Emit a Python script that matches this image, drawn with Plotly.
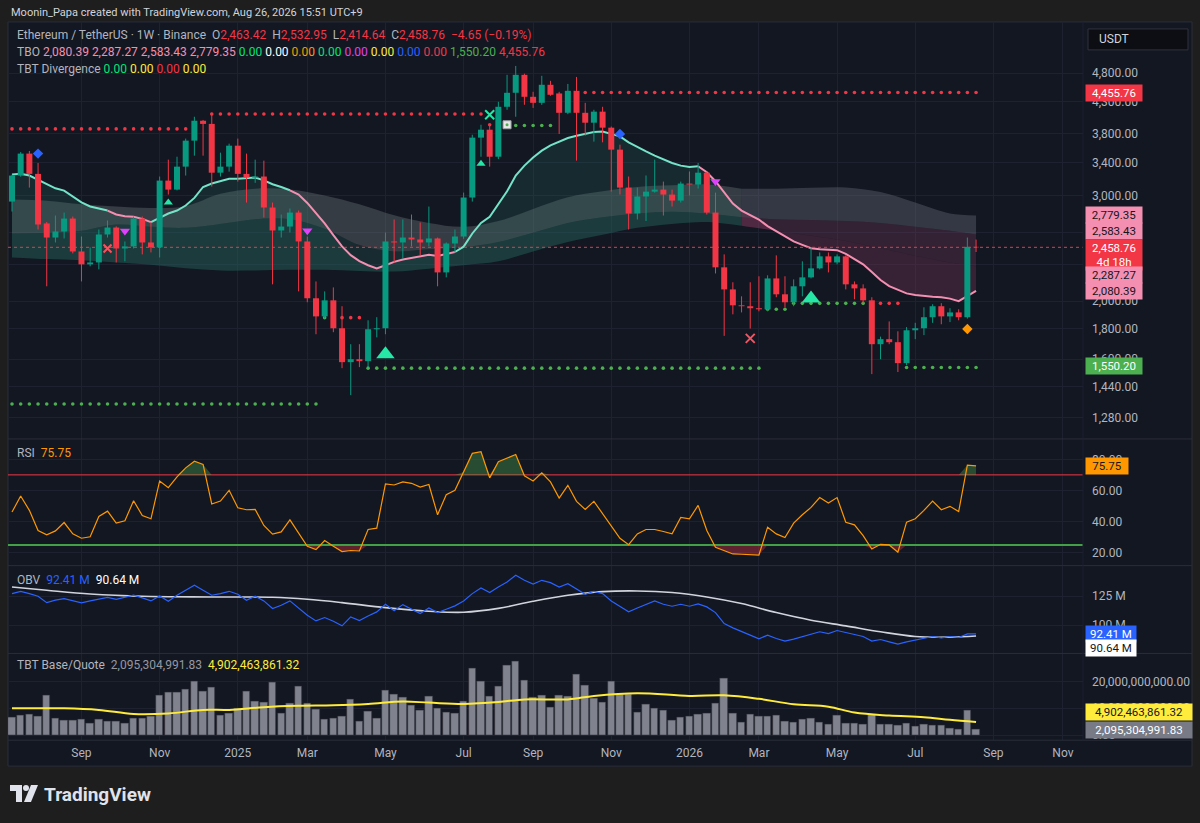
import numpy as np
import pandas as pd
import plotly.graph_objects as go

W, H = 1200, 823
PAGE_BG = "#1e1e1e"
PANEL_BG = "#131722"
GRID = "#1d2130"
BORDER = "#2a2e39"
TXT = "#b2b5be"
UP = "#089981"
DOWN = "#f23645"
FAST_UP = "#74e3c8"
FAST_DN = "#f48fb1"
FONT = "Roboto, 'Noto Sans', sans-serif"

# ---------------------------------------------------------------- data
first_week = pd.Timestamp("2024-07-08")
n_weeks = 112
weeks = pd.date_range(first_week, periods=n_weeks, freq="7D")

open_ = [
    2931, 3239, 3524, 3260, 2695, 2553, 2613, 2746, 2420, 2303,
    2320, 2583, 2653, 2448, 2467, 2746, 2505, 2458, 3177, 3069,
    3352, 3704, 3998, 3950, 3275, 3352, 3633, 3260, 3213, 3227,
    2865, 2623, 2663, 2810, 2515, 2022, 1886, 2006, 1802, 1582,
    1600, 1588, 1795, 1802, 2515, 2505, 2553, 2534, 2505, 2544,
    2233, 2495, 2563, 2977, 3747, 3863, 3482, 4218, 4451, 4769,
    4383, 4283, 4590, 4440, 4122, 4485, 4122, 3968, 4140, 3893,
    3578, 3093, 2800, 2989, 3045, 3069, 3011, 2942, 3141, 3129,
    3275, 2810, 2277, 2092, 1968, 1961, 1946, 1938, 2182, 2053,
    1991, 2117, 2191, 2268, 2375, 2320, 2375, 2133, 2100, 2006,
    1695, 1728, 1708, 1576, 1788, 1802, 1880, 1961, 1886, 1915,
    1880, 2463.42,
]
high = [
    3251, 3545, 3560, 3400, 2710, 2778, 2810, 2767, 2563, 2458,
    2633, 2726, 2665, 2515, 2767, 2767, 2705, 3227, 3443, 3482,
    3733, 4060, 4010, 4122, 3537, 3661, 3733, 3524, 3443, 3430,
    2920, 2789, 2854, 2832, 2563, 2157, 2076, 2108, 1961, 1695,
    1695, 1858, 1880, 2603, 2736, 2736, 2789, 2705, 2876, 2553,
    2505, 2633, 3034, 3789, 3937, 3937, 4300, 4769, 4935, 4790,
    4468, 4751, 4660, 4468, 4605, 4730, 4283, 4170, 4218, 3910,
    3647, 3227, 3093, 3240, 3443, 3165, 3069, 3165, 3290, 3400,
    3290, 3034, 2393, 2150, 2037, 2150, 2200, 2208, 2384, 2200,
    2174, 2330, 2458, 2411, 2411, 2393, 2384, 2157, 2133, 2030,
    1745, 1850, 1781, 1810, 1840, 1953, 1976, 1984, 1946, 1938,
    2553, 2532.95,
]
low = [
    2821, 3225, 3093, 2633, 2117, 2505, 2544, 2402, 2157, 2286,
    2259, 2553, 2320, 2330, 2448, 2393, 2411, 2365, 3011, 3060,
    3239, 3496, 3496, 3105, 3227, 3288, 3165, 2920, 3150, 2757,
    2133, 2553, 2603, 2076, 1991, 1761, 1872, 1775, 1546, 1394,
    1552, 1552, 1740, 1761, 2320, 2356, 2467, 2384, 2467, 2117,
    2191, 2411, 2540, 2931, 3482, 3352, 3450, 4170, 4060, 4251,
    4200, 4250, 4400, 3800, 4100, 3430, 3776, 3690, 3680, 3045,
    3011, 2633, 2736, 2720, 3034, 2778, 2876, 2920, 3000, 3081,
    2789, 2224, 1750, 1901, 1915, 1800, 1923, 1923, 2030, 1953,
    1961, 2037, 2182, 2259, 2233, 2303, 2092, 2014, 1984, 1511,
    1600, 1695, 1523, 1564, 1728, 1755, 1840, 1830, 1845, 1858,
    1870, 2414.64,
]
close = [
    3239, 3524, 3260, 2684, 2553, 2613, 2746, 2420, 2303, 2320,
    2583, 2653, 2448, 2467, 2746, 2505, 2458, 3177, 3069, 3352,
    3704, 3998, 3950, 3275, 3352, 3633, 3260, 3213, 3227, 2865,
    2623, 2663, 2810, 2515, 2022, 1886, 2006, 1802, 1582, 1600,
    1588, 1795, 1802, 2515, 2505, 2553, 2534, 2505, 2544, 2233,
    2495, 2563, 2977, 3747, 3863, 3482, 4218, 4451, 4769, 4383,
    4283, 4590, 4417, 4122, 4485, 4122, 3968, 4140, 3893, 3578,
    3093, 2800, 2989, 3045, 3069, 3011, 2942, 3141, 3129, 3275,
    2810, 2277, 2092, 1968, 1961, 1946, 1938, 2182, 2053, 1991,
    2117, 2191, 2268, 2375, 2320, 2375, 2133, 2100, 2006, 1695,
    1728, 1708, 1576, 1788, 1802, 1880, 1961, 1886, 1915, 1880,
    2463.42, 2458.76,
]
change_text = "−4.65 (−0.19%)"
bar_timer = "4d 18h"

# TBO fast line (one value per week) and the weeks where its colour flips
tbo_fast = [
    3251, 3262, 3240, 3189, 3129, 3084, 3057, 2992, 2923, 2876,
    2854, 2832, 2789, 2771, 2764, 2743, 2708, 2754, 2800, 2832,
    2887, 2973, 3100, 3141, 3170, 3200, 3200, 3206, 3214, 3180,
    3133, 3100, 3061, 3011, 2916, 2800, 2695, 2576, 2468, 2386,
    2332, 2295, 2268, 2295, 2325, 2347, 2362, 2378, 2389, 2378,
    2393, 2415, 2465, 2593, 2700, 2764, 2898, 3049, 3239, 3365,
    3473, 3564, 3637, 3684, 3741, 3775, 3804, 3828, 3837, 3804,
    3765, 3679, 3613, 3553, 3496, 3443, 3400, 3365, 3348, 3357,
    3280, 3170, 3037, 2909, 2832, 2782, 2736, 2667, 2613, 2560,
    2515, 2482, 2450, 2440, 2439, 2432, 2398, 2353, 2303, 2237,
    2168, 2118, 2087, 2060, 2047, 2039, 2034, 2030, 2019, 2000,
    2039, 2080.39,
]
tbo_flips = [12, 17, 33, 52, 80]

# TBO cloud lines, read every fourth week
cloud_weeks = [0, 4, 8, 12, 16, 20, 24, 28, 32, 36, 40, 44, 48, 52, 56,
               60, 64, 68, 72, 76, 80, 84, 88, 92, 96, 100, 104, 108, 111]
cloud_hi = [2954, 2940, 2900, 2876, 2860, 2880, 3020, 3080, 3070, 3000,
            2900, 2780, 2700, 2660, 2720, 2850, 2980, 3050, 3100, 3120,
            3130, 3080, 3080, 3090, 3095, 3040, 2920, 2800, 2779.35]
cloud_mid = [2593, 2600, 2620, 2684, 2660, 2650, 2690, 2740, 2740, 2640,
             2480, 2420, 2440, 2460, 2510, 2600, 2700, 2760, 2800, 2820,
             2800, 2760, 2740, 2730, 2720, 2700, 2660, 2620, 2583.43]
cloud_lo = [2365, 2350, 2340, 2320, 2300, 2270, 2250, 2250, 2255, 2255,
            2245, 2240, 2265, 2295, 2330, 2420, 2510, 2580, 2650, 2690,
            2710, 2670, 2620, 2570, 2520, 2450, 2380, 2320, 2287.27]
cloud_bear_from = 84

# dotted support / resistance runs: (first week, last week, price)
resistance_runs = [(0, 20, 3875), (23, 54, 4102), (55, 55, 3937),
                   (66, 111, 4455.76), (38, 40, 1877), (100, 102, 1983)]
support_runs = [(0, 35, 1347), (41, 86, 1546), (58, 62, 3926), (36, 36, 1877),
                (87, 89, 1938), (90, 98, 1983), (103, 111, 1550.20)]

# signal marks: (week, price, symbol, colour, size)
signals = [
    (3, 3524, "diamond", "#2962ff", 8),
    (11, 2448, "x-thin", "#f7525f", 8),
    (13, 2618, "triangle-down", "#e040fb", 9),
    (18, 2920, "triangle-up", "#26e7a6", 8),
    (34, 2620, "triangle-down", "#e040fb", 9),
    (43, 1631, "triangle-up", "#26e7a6", 16),
    (54, 3390, "triangle-up", "#26e7a6", 8),
    (55, 4090, "x-thin", "#26e7a6", 9),
    (70, 3800, "diamond", "#2962ff", 8),
    (81, 3165, "triangle-down", "#e040fb", 9),
    (85, 1733, "x-thin", "#f7525f", 9),
    (92, 2020, "triangle-up", "#26e7a6", 16),
    (110, 1797, "diamond", "#ff9800", 8),
]
bag_week, bag_price = 57, 3937

rsi = [
    46.1, 56.4, 47.2, 34.3, 31.5, 34.0, 39.4, 32.1, 29.3, 30.2,
    43.3, 46.7, 39.0, 40.5, 53.4, 43.9, 41.8, 66.1, 61.8, 68.7,
    74.5, 78.8, 76.7, 51.3, 53.2, 60.1, 48.9, 47.6, 47.8, 37.5,
    31.9, 33.4, 41.1, 32.5, 24.1, 22.0, 27.8, 24.1, 20.7, 21.4,
    21.1, 34.9, 35.8, 64.2, 63.5, 65.5, 64.6, 62.2, 63.8, 44.4,
    57.3, 60.1, 71.9, 83.8, 84.9, 68.1, 78.4, 80.6, 83.1, 69.4,
    66.1, 71.3, 65.5, 55.1, 63.3, 53.0, 47.8, 53.0, 45.0, 37.1,
    29.3, 25.2, 32.1, 34.9, 34.9, 33.6, 32.1, 42.7, 41.8, 50.4,
    34.3, 23.5, 21.1, 19.2, 19.0, 18.8, 18.5, 36.4, 32.1, 29.7,
    39.0, 44.4, 49.1, 55.4, 51.9, 55.4, 39.6, 37.9, 31.0, 22.4,
    25.4, 25.0, 20.3, 39.6, 41.8, 47.2, 53.2, 47.6, 49.8, 46.5,
    76.2, 75.75,
]
rsi_upper, rsi_lower = 70, 25

obv_m = [
    127.3, 129.3, 127.3, 125.0, 119.5, 121.6, 123.0, 121.0, 119.3, 121.0,
    122.7, 124.1, 122.4, 123.9, 125.9, 123.6, 121.0, 125.3, 120.7, 125.9,
    130.2, 134.5, 130.2, 125.9, 127.3, 129.3, 126.7, 121.6, 125.0, 121.0,
    114.4, 117.2, 121.0, 114.4, 108.6, 103.7, 106.6, 103.4, 99.4, 107.2,
    104.0, 108.0, 111.5, 118.1, 112.4, 117.8, 113.8, 110.1, 114.9, 110.9,
    113.8, 116.7, 121.0, 127.3, 132.2, 128.2, 133.0, 137.4, 143.1, 138.8,
    135.6, 138.8, 136.8, 133.0, 135.9, 131.0, 126.7, 129.3, 127.3, 121.0,
    116.4, 111.5, 114.9, 118.1, 121.0, 118.1, 116.4, 118.1, 116.4, 118.4,
    115.8, 110.9, 101.4, 97.7, 94.8, 91.4, 88.2, 91.4, 88.5, 86.2,
    87.9, 89.9, 92.2, 94.3, 92.8, 95.4, 93.7, 92.0, 90.2, 86.2,
    87.6, 85.6, 83.6, 85.6, 87.1, 88.5, 90.2, 89.1, 90.2, 89.4,
    92.5, 92.41,
]
obv_ma_weeks = [0, 4, 9, 15, 23, 30, 34, 38, 43, 48, 52, 56, 60, 64, 68,
                72, 76, 80, 84, 88, 92, 96, 100, 104, 108, 111]
obv_ma = [133.0, 130.2, 127.0, 125.0, 124.4, 124.1, 122.4, 119.5, 115.2,
          112.1, 111.2, 114.5, 120.7, 125.9, 129.0, 129.6, 128.2, 124.4,
          118.7, 110.9, 104.3, 99.4, 94.3, 90.2, 89.7, 90.64]

# quote volume, billions
volume_bn = [
    6.7, 7.4, 7.7, 7.0, 14.8, 6.2, 5.6, 5.6, 5.8, 4.3,
    5.7, 5.2, 5.2, 4.3, 6.3, 6.2, 6.9, 14.8, 16.0, 15.9,
    17.0, 20.0, 16.3, 17.9, 7.5, 8.1, 9.9, 16.2, 12.6, 12.1,
    19.5, 8.1, 11.9, 18.0, 11.9, 9.6, 5.7, 6.2, 7.0, 13.2,
    5.2, 8.8, 6.2, 16.5, 15.1, 14.1, 11.2, 9.3, 14.3, 10.1,
    8.3, 8.0, 12.7, 24.8, 20.1, 14.4, 18.0, 26.0, 27.4, 20.5,
    14.0, 14.6, 10.2, 14.7, 14.4, 22.7, 18.5, 13.8, 12.1, 20.1,
    15.3, 15.3, 8.4, 11.6, 10.0, 9.1, 5.6, 6.7, 6.9, 7.9,
    8.1, 11.7, 21.2, 8.0, 4.9, 7.7, 7.0, 6.9, 7.3, 5.2,
    4.7, 5.7, 6.4, 4.7, 4.1, 7.2, 4.3, 4.4, 4.0, 7.9,
    4.1, 4.0, 3.8, 4.4, 3.3, 4.1, 3.7, 3.7, 2.7, 2.3,
    9.1, 2.095,
]
vol_ma_weeks = [0, 3, 6, 10, 14, 18, 22, 25, 29, 33, 37, 41, 45, 48, 52,
                56, 59, 64, 67, 72, 78, 82, 86, 90, 94, 97, 101, 105, 108, 111]
vol_ma = [10.0, 10.0, 10.0, 9.4, 7.9, 8.1, 9.4, 9.4, 10.4, 10.9, 11.1, 11.6,
          12.5, 12.1, 11.6, 12.3, 13.3, 13.3, 14.6, 15.6, 14.6, 14.8, 13.5,
          11.5, 10.6, 8.4, 7.3, 6.7, 5.7, 4.902]

tick_weeks = [8, 17, 26, 34, 43, 52, 60, 69, 78, 86, 95, 104, 113, 121]
tick_labels = ["Sep", "Nov", "2025", "Mar", "May", "Jul", "Sep", "Nov",
               "2026", "Mar", "May", "Jul", "Sep", "Nov"]

# price grid; labels for the levels hidden behind the price tags are left blank
price_ticks = [1280, 1440, 1600, 1800, 2000, 2300, 2600, 3000, 3400, 3800, 4300, 4800]
price_hidden = {2300, 2600}


# ---------------------------------------------------------------- helpers
def wk(i):
    return first_week + pd.Timedelta(weeks=i)


def px_x(px):
    return px / W


def px_y(py):
    return 1 - py / H


def span(text, color):
    return f"<span style='color:{color}'>{text}</span>"


X_DOMAIN = [px_x(8), px_x(1083)]
T_LEFT = first_week - pd.Timedelta(days=3.22)
T_RIGHT = first_week + pd.Timedelta(days=863.2)

fig = go.Figure()


def band(xa, ya, xb, yb, color, shape_b="spline"):
    fig.add_trace(go.Scatter(x=xa, y=ya, mode="lines",
                             line=dict(width=0, shape="spline"), hoverinfo="skip"))
    fig.add_trace(go.Scatter(x=xb, y=yb, mode="lines",
                             line=dict(width=0, shape=shape_b),
                             fill="tonexty", fillcolor=color, hoverinfo="skip"))


# ---------------------------------------------------------------- TBO cloud
cw = [wk(i) for i in cloud_weeks]
k = cloud_weeks.index(cloud_bear_from)
parts = [(slice(0, k + 1), range(0, cloud_bear_from + 1), 0),
         (slice(k, None), range(cloud_bear_from, n_weeks), 1)]
cloud_colors = {
    "hi_mid": ("rgba(135,145,145,0.30)", "rgba(125,128,140,0.32)"),
    "mid_lo": ("rgba(45,125,112,0.20)", "rgba(175,80,125,0.20)"),
    "lo_fast": ("rgba(45,135,118,0.18)", "rgba(160,60,105,0.26)"),
}
for sl, bars, c in parts:
    band(cw[sl], cloud_hi[sl], cw[sl], cloud_mid[sl], cloud_colors["hi_mid"][c])
    band(cw[sl], cloud_mid[sl], cw[sl], cloud_lo[sl], cloud_colors["mid_lo"][c])
    band(cw[sl], cloud_lo[sl], [weeks[i] for i in bars], [tbo_fast[i] for i in bars],
         cloud_colors["lo_fast"][c], shape_b="linear")

# ---------------------------------------------------------------- dotted levels
for runs, color in ((resistance_runs, "#f23645"), (support_runs, "#4caf50")):
    for a, b, p in runs:
        fig.add_trace(go.Scatter(
            x=[weeks[i] for i in range(a, b + 1)], y=[p] * (b - a + 1),
            mode="markers", marker=dict(size=3.6, color=color), hoverinfo="skip"))

# ---------------------------------------------------------------- fast line
bounds = [0] + tbo_flips + [n_weeks]
for j in range(len(bounds) - 1):
    s, e = bounds[j], bounds[j + 1]
    idx = range(max(s - 1, 0), e)
    fig.add_trace(go.Scatter(
        x=[weeks[i] for i in idx], y=[tbo_fast[i] for i in idx], mode="lines",
        line=dict(color=FAST_UP if j % 2 == 0 else FAST_DN, width=2), hoverinfo="skip"))

# last price line
fig.add_trace(go.Scatter(x=[T_LEFT, T_RIGHT], y=[close[-1]] * 2, mode="lines",
                         line=dict(color="#f23645", width=1, dash="dot"), hoverinfo="skip"))


# ---------------------------------------------------------------- candles
def sticks(rows, ya, yb):
    xs, ys = [], []
    for i in rows:
        xs += [weeks[i], weeks[i], None]
        ys += [ya[i], yb[i], None]
    return xs, ys


up_rows = [i for i in range(n_weeks) if close[i] >= open_[i]]
dn_rows = [i for i in range(n_weeks) if close[i] < open_[i]]
for rows, color in ((up_rows, UP), (dn_rows, DOWN)):
    xs, ys = sticks(rows, low, high)
    fig.add_trace(go.Scatter(x=xs, y=ys, mode="lines", line=dict(color=color, width=1),
                             hoverinfo="skip"))
    xs, ys = sticks(rows, open_, close)
    fig.add_trace(go.Scatter(x=xs, y=ys, mode="lines", line=dict(color=color, width=6),
                             hoverinfo="skip"))

# ---------------------------------------------------------------- signals
for i, p, sym, color, size in signals:
    thin = sym.endswith("thin")
    fig.add_trace(go.Scatter(
        x=[weeks[i]], y=[p], mode="markers", hoverinfo="skip",
        marker=dict(symbol=sym, size=size, color=color,
                    line=dict(width=2 if thin else 0, color=color))))
fig.add_trace(go.Scatter(x=[weeks[bag_week]], y=[bag_price], mode="markers", hoverinfo="skip",
                         marker=dict(symbol="square", size=8, color="#e8e8e8",
                                     line=dict(width=1, color="#9aa0a6"))))
fig.add_trace(go.Scatter(x=[weeks[bag_week]], y=[bag_price], mode="markers", hoverinfo="skip",
                         marker=dict(symbol="circle", size=3, color="#4caf50")))

# ---------------------------------------------------------------- RSI pane
rx = list(weeks)
for lvl, color, wdt in ((rsi_upper, "#f23645", 1), (rsi_lower, "#43a047", 2)):
    fig.add_trace(go.Scatter(x=[T_LEFT, T_RIGHT], y=[lvl, lvl], mode="lines",
                             line=dict(color=color, width=wdt), xaxis="x2", yaxis="y2",
                             hoverinfo="skip"))
fig.add_trace(go.Scatter(x=rx, y=[rsi_upper] * n_weeks, mode="lines", line=dict(width=0),
                         xaxis="x2", yaxis="y2", hoverinfo="skip"))
fig.add_trace(go.Scatter(x=rx, y=[max(v, rsi_upper) for v in rsi], mode="lines",
                         line=dict(width=0), fill="tonexty",
                         fillcolor="rgba(76,175,80,0.35)", xaxis="x2", yaxis="y2",
                         hoverinfo="skip"))
fig.add_trace(go.Scatter(x=rx, y=[rsi_lower] * n_weeks, mode="lines", line=dict(width=0),
                         xaxis="x2", yaxis="y2", hoverinfo="skip"))
fig.add_trace(go.Scatter(x=rx, y=[min(v, rsi_lower) for v in rsi], mode="lines",
                         line=dict(width=0), fill="tonexty",
                         fillcolor="rgba(242,54,69,0.35)", xaxis="x2", yaxis="y2",
                         hoverinfo="skip"))
fig.add_trace(go.Scatter(x=rx, y=rsi, mode="lines", line=dict(color="#ff9800", width=1.2),
                         xaxis="x2", yaxis="y2", hoverinfo="skip"))

# ---------------------------------------------------------------- OBV pane
fig.add_trace(go.Scatter(x=[wk(i) for i in obv_ma_weeks], y=obv_ma, mode="lines",
                         line=dict(color="#d1d4dc", width=1.6, shape="spline"),
                         xaxis="x3", yaxis="y3", hoverinfo="skip"))
fig.add_trace(go.Scatter(x=rx, y=obv_m, mode="lines", line=dict(color="#2962ff", width=1.2),
                         xaxis="x3", yaxis="y3", hoverinfo="skip"))

# ---------------------------------------------------------------- volume pane
fig.add_trace(go.Bar(x=rx, y=volume_bn, width=7 * 24 * 3600 * 1000 * 0.86,
                     marker=dict(color="#80838d", line=dict(color="#2b2e38", width=0.6)),
                     xaxis="x4", yaxis="y4", hoverinfo="skip"))
fig.add_trace(go.Scatter(x=[wk(i) for i in vol_ma_weeks], y=vol_ma, mode="lines",
                         line=dict(color="#ffeb3b", width=2, shape="spline"),
                         xaxis="x4", yaxis="y4", hoverinfo="skip"))

# ---------------------------------------------------------------- axes
def dom(bottom_px, top_px):
    return [px_y(bottom_px), px_y(top_px)]


tick_dates = [wk(i) for i in tick_weeks]
x_common = dict(domain=X_DOMAIN, range=[T_LEFT, T_RIGHT], type="date", showgrid=True,
                gridcolor=GRID, gridwidth=1, tickmode="array", tickvals=tick_dates,
                ticktext=tick_labels, zeroline=False, showline=False, ticks="",
                fixedrange=True)
y_common = dict(side="right", showgrid=True, gridcolor=GRID, gridwidth=1, zeroline=False,
                showline=False, ticks="", tickfont=dict(color=TXT, size=12, family=FONT),
                ticklabelstandoff=8, fixedrange=True, tickmode="array")

fig.update_layout(
    xaxis=dict(**x_common, anchor="y", showticklabels=False),
    xaxis2=dict(**x_common, anchor="y2", showticklabels=False),
    xaxis3=dict(**x_common, anchor="y3", showticklabels=False),
    xaxis4=dict(**x_common, anchor="y4", showticklabels=True,
                tickfont=dict(color=TXT, size=12, family=FONT), ticklabelstandoff=4),
    yaxis=dict(**y_common, anchor="x", type="log", domain=dom(440, 22),
               range=[np.log10(1178.0), np.log10(5843.0)],
               tickvals=price_ticks,
               ticktext=["" if v in price_hidden else f"{v:,.2f}" for v in price_ticks]),
    yaxis2=dict(**y_common, anchor="x2", domain=dom(567, 440), range=[11.7, 93.1],
                tickvals=[20, 40, 60, 80], ticktext=["20.00", "40.00", "60.00", "80.00"]),
    yaxis3=dict(**y_common, anchor="x3", domain=dom(655, 567), range=[75.6, 151.5],
                tickvals=[100, 125], ticktext=["100 M", "125 M"]),
    yaxis4=dict(**y_common, anchor="x4", domain=dom(742, 655), range=[-1.85, 30.37],
                tickvals=[0, 10, 20],
                ticktext=["0.00", "10,000,000,000.00", "20,000,000,000.00"]),
)

# ---------------------------------------------------------------- shapes
shapes = [dict(type="rect", xref="paper", yref="paper", x0=px_x(8), x1=px_x(1192),
               y0=px_y(768), y1=px_y(22), fillcolor=PANEL_BG,
               line=dict(color=BORDER, width=1), layer="below")]
for py in (440, 567, 655, 742):
    shapes.append(dict(type="line", xref="paper", yref="paper", x0=px_x(8), x1=px_x(1192),
                       y0=px_y(py), y1=px_y(py), line=dict(color=BORDER, width=1)))
shapes.append(dict(type="line", xref="paper", yref="paper", x0=px_x(1083), x1=px_x(1083),
                   y0=px_y(742), y1=px_y(22), line=dict(color="#1c2030", width=1)))
# USDT box
shapes.append(dict(type="rect", xref="paper", yref="paper", x0=px_x(1088), x1=px_x(1188),
                   y0=px_y(50), y1=px_y(29), fillcolor="#0c0e14",
                   line=dict(color="#2f333e", width=1)))


# TradingView logo
def path(points):
    d = "M " + " L ".join(f"{px_x(x):.5f},{px_y(y):.5f}" for x, y in points) + " Z"
    return d


shapes.append(dict(type="path", xref="paper", yref="paper", fillcolor="#e0e3eb",
                   line=dict(width=0),
                   path=path([(10, 787), (22, 787), (22, 804), (16, 804), (16, 793), (10, 793)])))
shapes.append(dict(type="circle", xref="paper", yref="paper", fillcolor="#e0e3eb",
                   line=dict(width=0), x0=px_x(23), x1=px_x(29), y0=px_y(793), y1=px_y(787)))
shapes.append(dict(type="path", xref="paper", yref="paper", fillcolor="#e0e3eb",
                   line=dict(width=0),
                   path=path([(31, 787), (38, 787), (31, 804), (24, 804)])))

# ---------------------------------------------------------------- annotations
ann = []


def text_at(x, y, text, size=12, color=TXT, anchor="left"):
    ann.append(dict(xref="paper", yref="paper", x=px_x(x), y=px_y(y), text=text,
                    showarrow=False, xanchor=anchor, yanchor="middle",
                    font=dict(family=FONT, size=size, color=color)))


text_at(9, 13, "Moonin_Papa created with TradingView.com, Aug 26, 2026 15:51 UTC+9",
        size=11, color="#d1d4dc")

ohlc = [("O", open_[-1]), ("H", high[-1]), ("L", low[-1]), ("C", close[-1])]
line1 = span("Ethereum / TetherUS · 1W · Binance", TXT) + "  " + "  ".join(
    span(k_, TXT) + span(f"{v:,.2f}", DOWN) for k_, v in ohlc)
line1 += "  " + span(change_text, DOWN)
text_at(15, 35, line1)

tbo_vals = [(f"{tbo_fast[-1]:,.2f}", "#f48fb1"), (f"{cloud_lo[-1]:,.2f}", "#f48fb1"),
            (f"{cloud_mid[-1]:,.2f}", "#f48fb1"), (f"{cloud_hi[-1]:,.2f}", "#f48fb1"),
            ("0.00", "#00e676"), ("0.00", "#ffffff"), ("0.00", "#ff9800"),
            ("0.00", "#00e676"), ("0.00", "#e040fb"), ("0.00", "#ffeb3b"),
            ("0.00", "#2962ff"), ("0.00", "#f23645"),
            (f"{support_runs[-1][2]:,.2f}", "#4caf50"),
            (f"{resistance_runs[3][2]:,.2f}", "#f23645")]
text_at(15, 52, span("TBO", TXT) + " " + " ".join(span(t, c) for t, c in tbo_vals))
div_vals = [("0.00", "#00e676"), ("0.00", "#ffeb3b"), ("0.00", "#f23645"), ("0.00", "#ffeb3b")]
text_at(15, 69, span("TBT Divergence", TXT) + " " + " ".join(span(t, c) for t, c in div_vals))
text_at(15, 454, span("RSI", TXT) + "  " + span(f"{rsi[-1]:.2f}", "#ff9800"))
text_at(15, 581, span("OBV", TXT) + "  " + span(f"{obv_m[-1]:.2f} M", "#2962ff") + "  "
        + span(f"{obv_ma[-1]:.2f} M", "#ffffff"))
text_at(15, 667, span("TBT Base/Quote", TXT) + "  " + span("2,095,304,991.83", "#9598a1")
        + "  " + span("4,902,463,861.32", "#ffeb3b"))
text_at(1097, 39, "USDT", size=12, color="#d1d4dc")
text_at(42, 796, "<b>TradingView</b>", size=19, color="#e0e3eb")


def tag(yref, yval, text, bg, fg, shift=0, width=54, height=14, anchor="middle"):
    ann.append(dict(xref="paper", yref=yref, x=px_x(1085), y=yval, text=text,
                    showarrow=False, xanchor="left", yanchor=anchor, yshift=shift,
                    width=width, height=height, align="center", bgcolor=bg,
                    borderpad=1, font=dict(family=FONT, size=11.5, color=fg)))


lg = np.log10
tag("y", lg(4455.76), "4,455.76", "#f23645", "#ffffff")
tag("y", lg(cloud_hi[-1]), f"{cloud_hi[-1]:,.2f}", "#f48fb1", "#131722")
tag("y", lg(cloud_mid[-1]), f"{cloud_mid[-1]:,.2f}", "#f48fb1", "#131722", shift=3)
tag("y", lg(close[-1]), f"{close[-1]:,.2f}<br>{bar_timer}", "#f23645", "#ffffff",
    shift=8, height=28, anchor="top")
tag("y", lg(cloud_lo[-1]), f"{cloud_lo[-1]:,.2f}", "#f48fb1", "#131722", shift=-9)
tag("y", lg(tbo_fast[-1]), f"{tbo_fast[-1]:,.2f}", "#f48fb1", "#131722")
tag("y", lg(1550.20), "1,550.20", "#4caf50", "#ffffff", shift=1)
tag("y2", rsi[-1], f"{rsi[-1]:.2f}", "#ff9800", "#131722", width=40)
tag("y3", obv_m[-1], f"{obv_m[-1]:.2f} M", "#2962ff", "#ffffff", width=48)
tag("y3", obv_ma[-1], f"{obv_ma[-1]:.2f} M", "#ffffff", "#131722", width=48, shift=-12)
tag("y4", vol_ma[-1], "4,902,463,861.32", "#ffeb3b", "#131722", width=104, shift=10)
tag("y4", volume_bn[-1], "2,095,304,991.83", "#787b86", "#ffffff", width=104)

fig.update_layout(
    width=W, height=H, autosize=False, margin=dict(l=0, r=0, t=0, b=0),
    paper_bgcolor=PAGE_BG, plot_bgcolor=PANEL_BG, showlegend=False, hovermode=False,
    bargap=0, shapes=shapes, annotations=ann, font=dict(family=FONT, color=TXT),
)

fig.write_html("out.html", config={"displayModeBar": False},
               post_script="document.body.style.margin='0';document.body.style.overflow='hidden';")
